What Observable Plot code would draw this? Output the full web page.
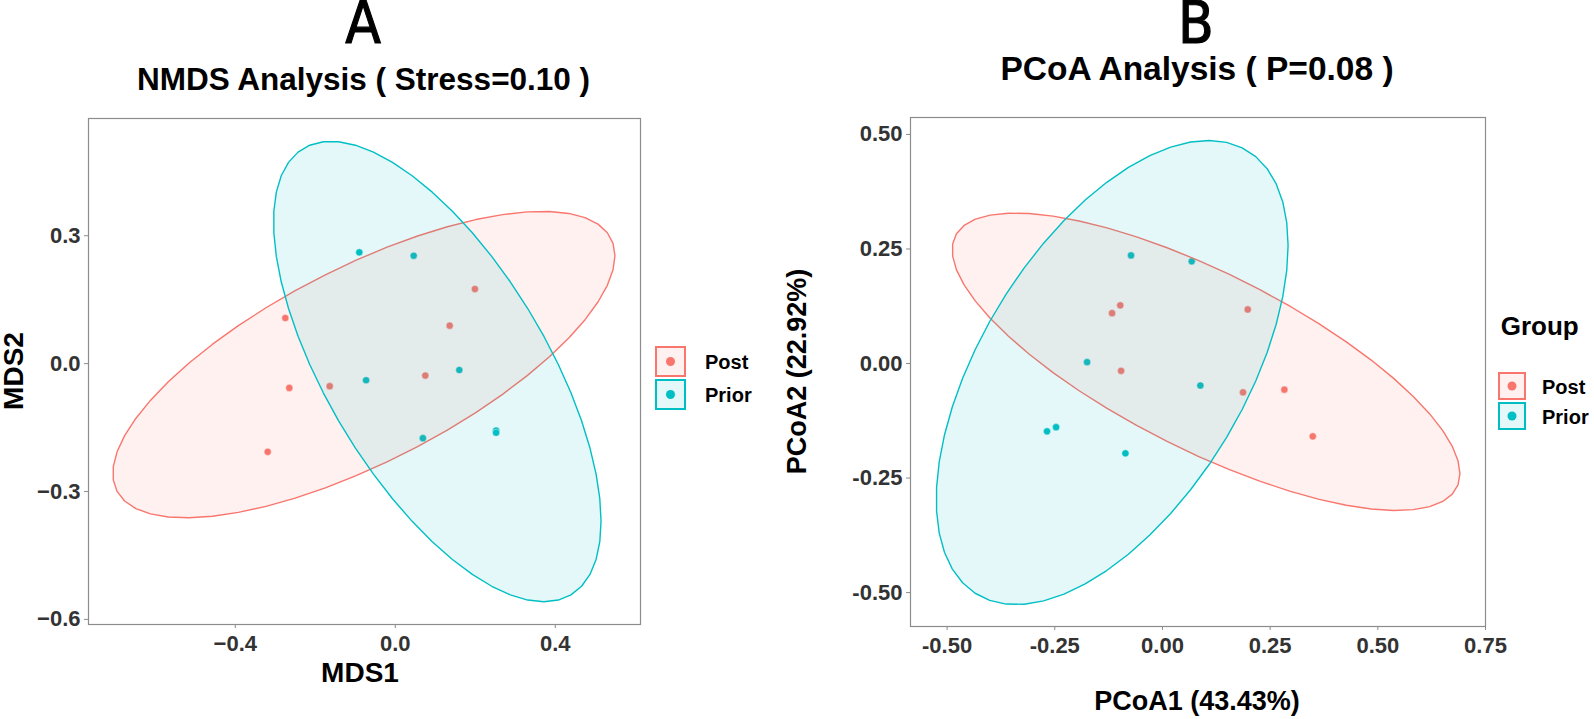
<!DOCTYPE html>
<html>
<head>
<meta charset="utf-8">
<script src="https://cdn.jsdelivr.net/npm/d3@7"></script>
<script src="https://cdn.jsdelivr.net/npm/@observablehq/plot@0.6"></script>
<style>
  html, body { margin: 0; padding: 0; background: #fff; overflow: hidden; }
  #root { position: relative; width: 1594px; height: 719px; overflow: hidden; font-family: "Liberation Sans", Arial, sans-serif; }
  .panel { position: absolute; }
  #overlay { position: absolute; left: 0; top: 0; pointer-events: none; }
</style>
</head>
<body>
<div id="root">
  <div id="plotA" class="panel" style="left:0px; top:100px;"></div>
  <div id="plotB" class="panel" style="left:820px; top:100px;"></div>
  <svg id="overlay" width="1594" height="719"></svg>
</div>
<script>
// ---------------- data ----------------
const groups = ["Post", "Prior"];
const groupColors = ["#F8766D", "#00BFC4"];

// Panel A: NMDS
const nmdsGroup = ["Post","Post","Post","Post","Post","Post","Post",
                   "Prior","Prior","Prior","Prior","Prior","Prior","Prior"];
const nmdsMDS1 = [-0.275, 0.199, 0.136, -0.265, -0.164, 0.075, -0.319,
                  -0.090, 0.046, -0.073, 0.160, 0.069, 0.252, 0.252];
const nmdsMDS2 = [0.107, 0.175, 0.089, -0.057, -0.053, -0.028, -0.207,
                  0.261, 0.253, -0.039, -0.015, -0.175, -0.157, -0.162];
const nmdsXTicks = [-0.4, 0.0, 0.4];
const nmdsYTicks = [-0.6, -0.3, 0.0, 0.3];

// Panel B: PCoA
const pcoaGroup = ["Post","Post","Post","Post","Post","Post","Post",
                   "Prior","Prior","Prior","Prior","Prior","Prior","Prior"];
const pcoaPC1 = [-0.098, -0.117, 0.198, -0.096, 0.187, 0.283, 0.349,
                 -0.073, 0.068, -0.175, 0.088, -0.268, -0.247, -0.086];
const pcoaPC2 = [0.127, 0.110, 0.118, -0.016, -0.063, -0.057, -0.159,
                 0.236, 0.223, 0.003, -0.048, -0.148, -0.139, -0.196];
const pcoaXTicks = [-0.50, -0.25, 0.00, 0.25, 0.50, 0.75];
const pcoaYTicks = [-0.50, -0.25, 0.00, 0.25, 0.50];

// ------------- ellipse (ggplot2 stat_ellipse, type = "t", level = 0.95) -------------
function covTrob(pts, nu = 5, maxit = 25, tol = 0.01) {
  const n = pts.length, p = 2;
  let loc = [d3.mean(pts, d => d[0]), d3.mean(pts, d => d[1])];
  let w = pts.map(() => 1);
  let X;
  for (let iter = 0; iter < maxit; iter++) {
    const w0 = w.slice();
    X = pts.map(d => [d[0] - loc[0], d[1] - loc[1]]);
    const sw = d3.sum(w);
    let a = 0, b = 0, c = 0;
    X.forEach((v, i) => { const k = w[i] / sw; a += k * v[0] * v[0]; b += k * v[0] * v[1]; c += k * v[1] * v[1]; });
    const det = a * c - b * b;
    const ia = c / det, ib = -b / det, ic = a / det;
    const Q = X.map(v => ia * v[0] * v[0] + 2 * ib * v[0] * v[1] + ic * v[1] * v[1]);
    w = Q.map(q => (nu + p) / (nu + q));
    const sw2 = d3.sum(w);
    loc = [d3.sum(pts, (d, i) => w[i] * d[0]) / sw2, d3.sum(pts, (d, i) => w[i] * d[1]) / sw2];
    if (w.every((v, i) => Math.abs(v - w0[i]) < tol)) break;
  }
  let a = 0, b = 0, c = 0;
  X.forEach((v, i) => { a += w[i] * v[0] * v[0]; b += w[i] * v[0] * v[1]; c += w[i] * v[1] * v[1]; });
  return { center: loc, cov: [[a / n, b / n], [b / n, c / n]] };
}
function ellipsePoints(pts, level = 0.95, segments = 51) {
  const n = pts.length, dfn = 2, dfd = n - 1;
  const qf = (dfd / 2) * (Math.pow(1 - level, -2 / dfd) - 1); // F(2, dfd) quantile
  const radius = Math.sqrt(dfn * qf);
  const { center, cov } = covTrob(pts);
  const r11 = Math.sqrt(cov[0][0]);
  const r12 = cov[0][1] / r11;
  const r22 = Math.sqrt(cov[1][1] - r12 * r12);
  const out = [];
  for (let i = 0; i <= segments; i++) {
    const t = i * 2 * Math.PI / segments;
    const u1 = Math.cos(t), u2 = Math.sin(t);
    out.push({ x: center[0] + radius * u1 * r11, y: center[1] + radius * (u1 * r12 + u2 * r22) });
  }
  return out;
}

function buildRows(g, xs, ys) { return g.map((grp, i) => ({ group: grp, x: xs[i], y: ys[i] })); }

function panel({ rows, xDomain, yDomain, xTicks, yTicks, fmt, width, height, margins }) {
  const marks = [];
  marks.push(Plot.dot(rows, { x: "x", y: "y", r: 3.6, fill: "group", stroke: "white", strokeWidth: 0.5 }));
  groups.forEach((g, gi) => {
    const pts = rows.filter(d => d.group === g).map(d => [d.x, d.y]);
    marks.push(Plot.line(ellipsePoints(pts), { x: "x", y: "y", stroke: groupColors[gi], strokeWidth: 1.4, fill: groupColors[gi], fillOpacity: 0.1 }));
  });
  marks.push(Plot.frame({ stroke: "#8c8c8c", strokeWidth: 1.2 }));
  marks.push(Plot.axisX({ ticks: xTicks, tickFormat: fmt, tickSize: 4, tickPadding: 7, stroke: "#8c8c8c", fill: "#333", fontSize: 22, fontWeight: "bold", label: null }));
  marks.push(Plot.axisY({ ticks: yTicks, tickFormat: fmt, tickSize: 4, tickPadding: 4, stroke: "#8c8c8c", fill: "#333", fontSize: 22, fontWeight: "bold", label: null }));
  return Plot.plot({
    width, height,
    marginLeft: margins[0], marginRight: margins[1], marginTop: margins[2], marginBottom: margins[3],
    x: { domain: xDomain },
    y: { domain: yDomain },
    color: { domain: groups, range: groupColors },
    style: { fontFamily: "'Liberation Sans', Arial, sans-serif", background: "transparent", overflow: "visible" },
    marks
  });
}

const fmtA = d3.format(".1f");              // unicode minus
const fmtB = d => d.toFixed(2);             // hyphen minus

document.getElementById("plotA").appendChild(panel({
  rows: buildRows(nmdsGroup, nmdsMDS1, nmdsMDS2),
  xDomain: [-0.767, 0.613], yDomain: [-0.612, 0.575],
  xTicks: nmdsXTicks, yTicks: nmdsYTicks, fmt: fmtA,
  width: 660, height: 600, margins: [88, 20, 18, 76]
}));
document.getElementById("plotB").appendChild(panel({
  rows: buildRows(pcoaGroup, pcoaPC1, pcoaPC2),
  xDomain: [-0.585, 0.75], yDomain: [-0.574, 0.537],
  xTicks: pcoaXTicks, yTicks: pcoaYTicks, fmt: fmtB,
  width: 680, height: 600, margins: [90, 15, 17, 74]
}));

// ---------------- texts & legends ----------------
const ov = d3.select("#overlay");
const font = "'Liberation Sans', Arial, sans-serif";
function txt(s, x, y, size, opts = {}) {
  const t = ov.append("text").attr("x", x).attr("y", y).text(s)
    .attr("font-family", opts.family || font).attr("font-size", size)
    .attr("font-weight", opts.weight || "bold").attr("fill", opts.fill || "#000")
    .attr("text-anchor", opts.anchor || "middle");
  if (opts.rotate) t.attr("transform", `rotate(-90, ${x}, ${y})`);
  if (opts.stroke) t.attr("stroke", "#000").attr("stroke-width", opts.stroke);
  return t;
}
const narrow = "'Liberation Sans Narrow', 'Arial Narrow', 'DejaVu Sans Condensed', sans-serif";
txt("A", 363, 43, 58, { family: narrow, weight: "normal", stroke: 1.1 });
txt("B", 1196, 43, 58, { family: narrow, weight: "normal", stroke: 1.1 });
txt("NMDS Analysis ( Stress=0.10 )", 363.5, 90, 31.5);
txt("PCoA Analysis ( P=0.08 )", 1197, 80, 33.5);
txt("MDS1", 360, 682, 28);
txt("MDS2", 23, 371, 28, { rotate: true });
txt("PCoA1 (43.43%)", 1197, 710, 27);
txt("PCoA2 (22.92%)", 806, 371.5, 27, { rotate: true });
txt("Group", 1500.7, 335, 26, { anchor: "start" });

function legend(x0, y0, size, gap, labelX, fontSize) {
  groups.forEach((g, i) => {
    const y = y0 + i * (size + gap);
    ov.append("rect").attr("x", x0 + 1).attr("y", y + 1).attr("width", size - 2).attr("height", size - 2)
      .attr("fill", groupColors[i]).attr("fill-opacity", 0.1)
      .attr("stroke", groupColors[i]).attr("stroke-width", 2);
    ov.append("circle").attr("cx", x0 + size / 2).attr("cy", y + size / 2).attr("r", 4.5).attr("fill", groupColors[i]);
    txt(g, labelX, y + size / 2 + 7.5, fontSize, { anchor: "start" });
  });
}
legend(655, 346, 31, 2, 705, 20);
legend(1498, 372, 28, 2, 1542, 20);
</script>
</body>
</html>
